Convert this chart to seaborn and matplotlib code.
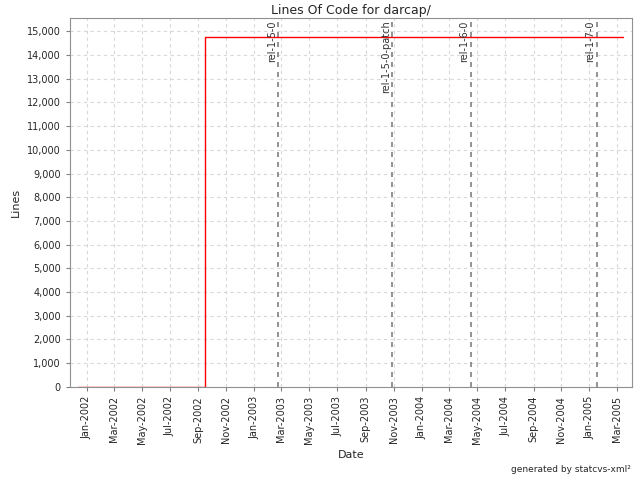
import pandas as pd
import matplotlib
matplotlib.use("Agg")
import matplotlib.pyplot as plt
import matplotlib.dates as mdates
from matplotlib.ticker import FuncFormatter
import seaborn as sns

# lines of code over time (step series)
dates = pd.to_datetime(["2001-12-12", "2002-09-16", "2005-03-16"])
lines = [0, 14750, 14750]

# release tags
tag_names = ["rel-1-5-0", "rel-1-5-0-patch", "rel-1-6-0", "rel-1-7-0"]
tag_dates = pd.to_datetime(["2003-02-22", "2003-10-29", "2004-04-17", "2005-01-17"])

sns.set_style("white")
plt.rcParams['font.family'] = ['DejaVu Sans']

fig = plt.figure(figsize=(6.4, 4.8), dpi=100)
ax = fig.add_axes([0.109, 0.194, 0.878, 0.768])

df = pd.DataFrame({"Date": dates, "Lines": lines})
sns.lineplot(x="Date", y="Lines", data=df, drawstyle="steps-post",
             color="red", linewidth=1.0, ax=ax)

for name, d in zip(tag_names, tag_dates):
    ax.axvline(d, color="#808080", linestyle=(0, (3, 3)), linewidth=1.2, zorder=1)
    ax.text(d - pd.Timedelta(days=3), 15450, name, rotation=90, ha="right",
            va="top", fontsize=7, color="#333333")

ax.set_xlim(pd.Timestamp("2001-11-25"), pd.Timestamp("2005-04-03"))
ax.set_ylim(0, 15550)
ax.set_yticks(range(0, 15001, 1000))
ax.yaxis.set_major_formatter(FuncFormatter(lambda v, p: f"{int(v):,}"))
ax.xaxis.set_major_locator(mdates.MonthLocator(bymonth=[1, 3, 5, 7, 9, 11]))
ax.xaxis.set_major_formatter(mdates.DateFormatter("%b-%Y"))
plt.setp(ax.get_xticklabels(), rotation=90)

ax.tick_params(axis="both", labelsize=7, length=3, color="#808080",
               direction="out", bottom=True, left=True)
ax.grid(True, color="#d8d8d8", linestyle=(0, (3, 3)), linewidth=0.8)
for s in ax.spines.values():
    s.set_color("#909090")
    s.set_linewidth(0.8)

ax.set_title("Lines Of Code for darcap/", fontsize=9, pad=3)
ax.set_xlabel("Date", fontsize=8)
ax.set_ylabel("Lines", fontsize=8)
fig.text(0.985, 0.012, "generated by statcvs-xml²", ha="right", va="bottom", fontsize=6.5)

plt.savefig("out.png", dpi=100)
